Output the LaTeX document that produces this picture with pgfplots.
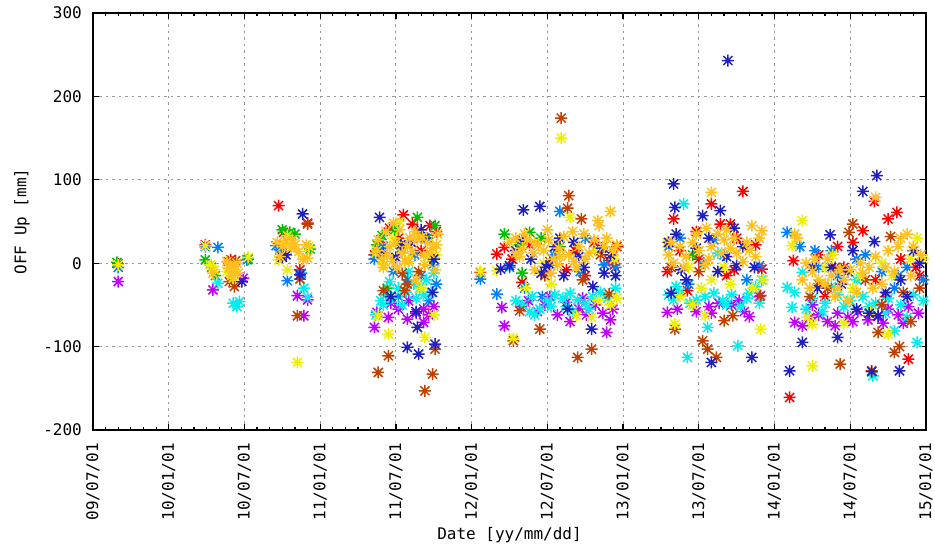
\documentclass[border=0pt]{standalone}
\usepackage{pgfplots}
\pgfplotsset{compat=1.18}
\usepackage{fontspec}
\setmonofont{DejaVu Sans Mono}

\definecolor{gpred}{HTML}{FF0000}
\definecolor{gpgreen}{HTML}{00C000}
\definecolor{gplblue}{HTML}{0080FF}
\definecolor{gpmag}{HTML}{C000FF}
\definecolor{gpcyan}{HTML}{00EEEE}
\definecolor{gpbrown}{HTML}{C04000}
\definecolor{gpyellow}{HTML}{EEEE00}
\definecolor{gpnavy}{HTML}{2020C0}
\definecolor{gporange}{HTML}{FFC020}

% gnuplot style asterisk: + and x on top of each other
\pgfdeclareplotmark{gpast}{%
  \pgfpathmoveto{\pgfqpoint{-\pgfplotmarksize}{0pt}}%
  \pgfpathlineto{\pgfqpoint{\pgfplotmarksize}{0pt}}%
  \pgfpathmoveto{\pgfqpoint{0pt}{-\pgfplotmarksize}}%
  \pgfpathlineto{\pgfqpoint{0pt}{\pgfplotmarksize}}%
  \pgfpathmoveto{\pgfqpoint{-0.75\pgfplotmarksize}{-0.75\pgfplotmarksize}}%
  \pgfpathlineto{\pgfqpoint{0.75\pgfplotmarksize}{0.75\pgfplotmarksize}}%
  \pgfpathmoveto{\pgfqpoint{-0.75\pgfplotmarksize}{0.75\pgfplotmarksize}}%
  \pgfpathlineto{\pgfqpoint{0.75\pgfplotmarksize}{-0.75\pgfplotmarksize}}%
  \pgfusepathqstroke}

\pgfplotsset{gp/.style={only marks, mark=gpast, mark size=6pt, line width=1.5pt, color=#1}}

\begin{document}
\begin{tikzpicture}
\path[use as bounding box] (-93pt,-119pt) rectangle (842pt,430pt);
% x = months since 2009-07-01
\begin{axis}[
  at={(0,0)}, anchor=south west,
  scale only axis, width=833pt, height=417pt,
  xmin=0, xmax=66, ymin=-200, ymax=300,
  xtick={0,6,12,18,24,30,36,42,48,54,60,66},
  xticklabels={09/07/01,10/01/01,10/07/01,11/01/01,11/07/01,12/01/01,12/07/01,13/01/01,13/07/01,14/01/01,14/07/01,15/01/01},
  minor x tick num=5,
  ytick={-200,-100,0,100,200,300},
  yticklabels={-200,-100,0,100,200,300},
  grid=major,
  major grid style={black!40, line width=0.9pt, dash pattern=on 2.5pt off 4pt},
  axis line style={line width=1.6pt},
  tick style={black, line width=1.2pt},
  major tick length=6pt, minor tick length=3.5pt,
  tick label style={font=\ttfamily\fontsize{16}{18}\selectfont},
  x tick label style={rotate=90, anchor=east, inner sep=0pt},
  y tick label style={anchor=east, inner sep=0pt},
  xticklabel shift=13pt, yticklabel shift=11pt,
  label style={font=\ttfamily\fontsize{16}{18}\selectfont},
  xlabel={Date [yy/mm/dd]},
  ylabel={OFF Up [mm]},
  xlabel style={at={(axis description cs:0.5,-0.2518)}, anchor=center},
  ylabel style={at={(axis description cs:-0.0852,0.5)}, anchor=center},
  clip=true,
]

\addplot[gp=gpred] coordinates {
(2.0,-1) (8.9,22) (10.9,4)
(14.7,69) (17.0,48) (15.1,37) (16.4,-8)
(24.6,58) (22.8,25) (23.5,42) (25.3,47) (26.7,45) (22.3,10) (24.2,30) (26.0,15) (27.2,38)
(30.7,-11) (32.6,19) (32.0,11) (33.2,5) (34.6,22) (36.0,-5) (38.2,15) (39.7,25) (40.9,3) (41.3,-2) (34.0,-23) (37.5,-8) (39.0,-15) (41.5,20)
(51.5,86) (49.0,71) (46.0,53) (49.7,47) (50.5,47) (47.1,-33) (53.0,-7) (45.5,-10) (46.5,15) (48.0,5) (51.0,30) (52.5,22) (50.2,-15) (47.8,38) (50.8,-8)
(55.2,-161) (64.6,-115) (61.9,74) (63.0,53) (63.7,61) (61.0,39) (55.5,3) (57.5,10) (59.5,-5) (62.0,-20) (64.0,5) (65.5,-15) (58.0,-40)
(60.2,25) (62.8,-40) (65.2,-5) (59.0,20)
};

\addplot[gp=gpgreen] coordinates {
(1.9,1) (8.9,4) (9.4,-5) (9.7,-15) (12.3,5)
(15.0,40) (15.6,37) (16.0,35) (17.2,17)
(25.7,55) (27.1,45) (22.9,33) (23.9,40) (24.4,18) (22.5,22) (26.5,30) (23.3,-30)
(32.6,35) (34.6,37) (33.8,22) (35.5,30) (34.0,-12) (37.0,20)
(47.5,10)
};

\addplot[gp=gplblue] coordinates {
(2.0,-5) (8.9,20) (9.9,19) (12.2,4)
(14.5,21) (14.8,16) (15.4,-21) (16.5,-12)
(22.3,5) (23.8,-10) (24.9,-20) (26.0,-15) (26.9,-2) (25.5,10) (23.0,20) (27.2,-25) (24.2,-40) (26.6,-45)
(30.7,-19) (32.0,-37) (33.0,-5) (34.2,-30) (36.5,10) (38.6,-10) (40.5,-2) (41.4,-5) (37.0,62) (35.6,-40) (39.0,30)
(46.5,30) (45.6,20) (48.4,0) (50.0,10) (51.8,-20) (52.8,-3) (49.2,28) (47.2,-25)
(55.0,37) (56.0,20) (57.5,-5) (59.0,-15) (60.5,5) (62.5,-10) (64.5,-5) (65.8,-20) (58.5,15) (63.5,-30)
(57.2,15) (61.2,10) (63.8,-15)
};

\addplot[gp=gpmag] coordinates {
(2.0,-22) (9.5,-32) (11.9,-18)
(16.2,-39) (17.0,-44) (16.7,-63)
(22.5,-59) (22.3,-77) (23.4,-65) (24.9,-67) (26.2,-71) (27.0,-52) (25.0,-45) (26.2,-55) (25.6,-60) (23.6,-48) (24.2,-55) (26.6,-62)
(32.4,-53) (32.6,-75) (34.5,-45) (35.2,-58) (36.2,-40) (36.8,-62) (37.5,-47) (38.5,-55) (39.1,-62) (39.8,-50) (40.4,-60) (40.7,-83) (41.2,-55) (33.9,-52) (37.8,-70)
(35.8,-50) (38.8,-42) (41.0,-68)
(45.5,-59) (46.3,-55) (50.6,-50) (52.0,-64) (51.2,-45) (48.8,-52) (49.6,-48) (47.8,-58) (52.8,-40) (49.0,-60) (51.6,-58)
(55.6,-71) (56.8,-65) (57.5,-62) (58.2,-70) (59.0,-60) (59.8,-65) (60.6,-58) (61.4,-68) (62.2,-64) (63.0,-55) (63.8,-62) (64.6,-52) (65.4,-60) (57.0,-50)
(56.2,-75) (58.8,-75) (60.2,-70) (62.6,-72) (64.2,-72)
};

\addplot[gp=gpcyan] coordinates {
(9.9,-24) (11.1,-48) (11.6,-46) (11.4,-52)
(17.0,-41) (16.7,-30)
(23.2,-38) (23.7,-42) (24.2,-30) (24.8,-35) (25.4,-25) (25.9,-30) (26.4,-20) (27.0,-12) (26.8,-35) (22.4,-62) (24.5,-50) (25.6,-42) (23.0,-50)
(23.5,-22) (25.0,-10) (26.2,-38) (22.8,-45)
(33.5,-45) (34.0,-50) (34.8,-40) (35.4,-55) (36.0,-45) (36.6,-38) (37.2,-42) (37.8,-36) (38.4,-44) (39.0,-48) (39.6,-40) (40.2,-35) (40.8,-42) (41.4,-30) (35.0,-62) (38.0,-58)
(36.3,-52) (37.5,-52) (39.3,-55) (34.6,-58)
(46.8,71) (45.6,-38) (46.0,-44) (46.5,-35) (47.8,-44) (48.5,-40) (49.2,-36) (49.9,-45) (50.6,-38) (51.3,-52) (52.0,-36) (52.8,-48) (47.1,-113) (51.1,-99) (48.7,-77) (53.0,-20) (49.5,12)
(46.2,-28) (47.3,-48) (50.2,-50) (51.8,-42) (52.5,-28)
(56.2,-11) (55.0,-29) (55.6,-35) (55.4,-53) (61.8,-135) (63.5,-81) (65.3,-95) (57.0,-42) (58.0,-48) (59.0,-38) (60.0,-45) (61.0,-40) (62.0,-48) (63.0,-42) (64.0,-50) (65.0,-38) (60.5,-20) (58.5,-28)
(56.5,-55) (57.8,-58) (59.5,-52) (61.5,-52) (62.8,-60) (64.5,-65) (65.8,-45)
};

\addplot[gp=gpbrown] coordinates {
(10.7,2) (11.3,3) (11.2,-28) (10.8,-22)
(17.0,47) (16.4,-19) (16.2,-63)
(23.0,-33) (24.9,-25) (24.7,-33) (23.4,-111) (22.6,-131) (26.9,-133) (26.3,-153) (27.1,-103) (25.8,-10) (24.5,-12)
(33.8,-57) (35.4,-79) (37.7,81) (37.6,66) (38.7,53) (39.5,-103) (38.4,-113) (40.9,-37) (37.1,174) (35.8,-15) (36.2,2) (38.8,-20) (40.2,10) (33.3,-93)
(46.1,-79) (50.7,-63) (50.0,-69) (48.3,-93) (48.7,-103) (49.4,-113) (52.9,-39) (48.0,-10) (45.8,-5)
(59.2,-121) (61.7,-129) (63.5,-107) (63.9,-100) (62.2,-83) (59.9,37) (60.2,47) (63.2,32) (57.5,-25) (58.8,-5) (64.2,-35) (65.5,-30) (56.8,-40)
(58.2,-30) (61.2,-20) (64.8,-70) (62.5,-50)
};

\addplot[gp=gpyellow] coordinates {
(2.0,-2) (8.9,21) (9.3,-2) (9.6,-8) (11.1,-18) (10.6,-10) (12.3,7)
(15.4,33) (14.7,4) (17.1,20) (15.4,-8) (16.2,-119)
(22.6,-63) (23.4,-85) (26.3,-89) (27.0,-62) (24.3,50) (23.0,-2) (25.0,5) (26.5,8) (22.4,12) (26.0,-30)
(23.8,30) (25.8,35) (27.2,10)
(30.7,-10) (32.0,-9) (33.3,-90) (37.8,55) (38.3,-63) (39.5,-65) (37.1,150) (34.3,-30) (35.7,0) (41.0,-50) (36.3,-25) (39.8,15) (41.5,-42)
(40.0,-45) (41.3,5)
(46.1,-73) (52.9,-79) (48.5,-63) (47.2,-5) (49.0,-20) (50.5,-25) (53.1,-20) (48.2,-30) (45.5,25)
(46.5,-40) (50.0,-5) (52.3,-30) (47.5,-50)
(57.0,-123) (56.2,51) (55.4,21) (57.0,-73) (63.0,-85) (58.0,-5) (60.8,-15) (62.5,0) (64.8,5) (59.5,-72) (65.8,5)
(58.6,10) (60.2,-30) (61.6,-58) (63.3,-15) (65.3,30) (56.6,-65)
};

\addplot[gp=gpnavy] coordinates {
(11.8,-22)
(16.6,59) (15.0,7) (15.3,10) (16.4,-14)
(22.7,55) (24.0,7) (25.7,-77) (24.9,-101) (25.8,-109) (27.1,-97) (26.9,-35) (25.2,25) (26.3,30) (23.6,-40) (25.6,-58)
(23.0,12) (24.4,22) (26.0,40) (27.0,5)
(34.1,64) (35.4,68) (32.3,-7) (33.5,15) (34.7,5) (35.9,-5) (36.6,20) (37.3,-15) (38.1,25) (38.9,-5) (39.6,-28) (40.3,18) (41.0,10) (37.6,-55) (39.5,-79) (36.2,-2) (33.0,-3)
(34.0,28) (35.5,-12) (37.0,30) (38.5,8) (40.5,-12) (41.4,-15)
(46.0,95) (46.1,67) (48.3,57) (49.7,63) (49.0,-119) (52.2,-113) (45.8,-36) (50.3,243) (46.2,35) (47.8,18) (48.8,30) (50.2,8) (51.5,20) (52.4,-5) (47.0,-20)
(45.6,25) (46.6,-8) (49.5,-10) (51.0,-3) (50.8,42)
(55.2,-129) (56.2,-95) (59.0,-89) (61.7,-130) (63.9,-129) (62.1,105) (61.0,86) (58.4,34) (61.9,26) (62.2,-63) (58.5,-5) (59.8,-10) (57.4,-30) (64.0,-20) (60.5,-55) (65.0,15)
(57.0,-5) (59.3,-25) (60.2,15) (61.5,-60) (62.8,-35) (64.5,-40) (65.5,0)
};

\addplot[gp=gporange] coordinates {
(9.5,-12) (10.6,2) (10.9,-3) (11.2,-8) (11.5,-12) (11.0,-15) (10.8,-6) (11.4,0)
(14.6,25) (15.0,20) (15.3,27) (15.7,18) (16.0,22) (16.3,14) (16.6,5) (17.0,6) (14.8,8) (15.8,28) (16.9,22)
(22.5,15) (22.9,5) (23.3,10) (23.7,2) (24.1,-5) (24.5,12) (24.9,20) (25.3,14) (25.7,28) (26.1,32) (26.5,24) (26.9,18) (27.3,35) (23.2,38) (24.0,25) (25.0,2) (26.2,10) (27.1,-8) (23.8,48) (25.6,-20)
(22.6,28) (23.0,-5) (23.5,20) (24.3,40) (24.7,2) (25.1,30) (25.5,38) (26.3,-2) (26.7,12) (27.2,22)
(33.0,25) (33.5,30) (34.0,18) (34.4,28) (34.9,12) (35.3,22) (35.7,15) (36.1,28) (36.5,5) (36.9,18) (37.3,32) (37.7,10) (38.1,2) (38.5,20) (38.9,35) (39.3,12) (39.7,28) (40.1,45) (40.5,20) (41.0,62) (40.0,51) (35.0,-8) (36.3,-12) (38.3,-5) (33.8,8) (41.2,15)
(34.2,35) (35.0,25) (36.0,40) (37.0,8) (38.0,38) (39.0,5) (40.7,30) (41.5,22) (33.5,12) (36.8,-2)
(49.0,85) (52.2,45) (53.0,39) (45.6,10) (46.0,0) (46.5,20) (47.0,8) (47.5,25) (48.0,15) (48.5,-2) (49.0,20) (49.5,35) (50.0,28) (50.5,18) (51.0,12) (51.5,2) (52.0,15) (52.5,8) (48.6,42)
(45.8,25) (46.8,-5) (47.8,35) (48.8,5) (49.8,12) (50.8,30) (51.8,25) (52.8,30) (50.2,40)
(62.0,79) (55.6,35) (56.5,0) (57.0,-10) (57.5,-20) (58.0,-25) (58.5,-15) (59.0,-30) (59.5,-20) (60.0,-8) (60.5,-35) (61.0,-12) (61.5,-5) (62.0,8) (62.5,-25) (63.0,15) (63.5,-10) (64.0,30) (64.5,35) (65.0,20) (56.8,-30) (58.2,5) (55.8,30)
(56.2,-20) (57.2,5) (58.8,-40) (59.8,-45) (60.8,0) (61.8,-30) (62.8,-5) (63.8,20) (64.8,-15) (65.6,10) (59.2,-8)
};

\end{axis}
\end{tikzpicture}
\end{document}
